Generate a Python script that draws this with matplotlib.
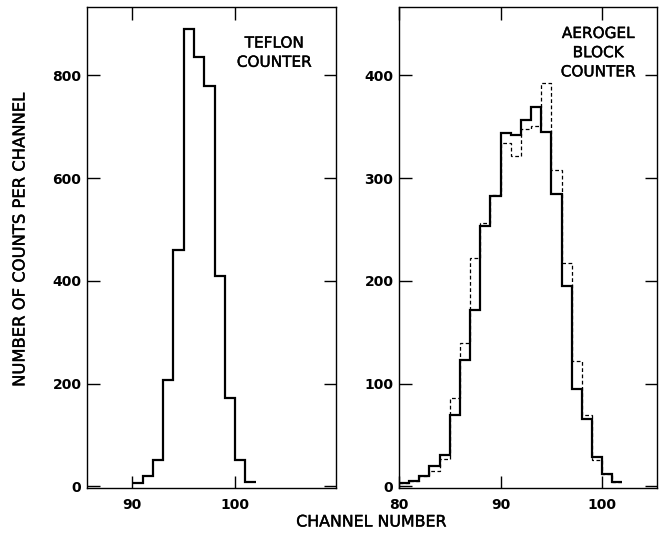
import numpy as np
import matplotlib
matplotlib.use("Agg")
import matplotlib.pyplot as plt
import matplotlib.patheffects as pe

# ---- data ----
teflon_channels = [90, 91, 92, 93, 94, 95, 96, 97, 98, 99, 100, 101]
teflon_counts = [6, 20, 52, 208, 460, 890, 835, 780, 410, 172, 52, 8]

aerogel_channels = [80, 81, 82, 83, 84, 85, 86, 87, 88, 89, 90, 91, 92, 93,
                    94, 95, 96, 97, 98, 99, 100, 101]
aerogel_solid = [3, 5, 10, 20, 31, 70, 123, 172, 253, 283, 344, 342, 357, 369,
                 345, 285, 195, 95, 66, 29, 12, 4]
aerogel_dashed = [3, 5, 10, 15, 27, 86, 140, 222, 256, 284, 334, 322, 348, 351,
                  393, 308, 217, 122, 70, 26, 12, 4]

teflon_yticks = [0, 200, 400, 600, 800]
teflon_xticks = [90, 100]
aerogel_yticks = [0, 100, 200, 300, 400]
aerogel_xticks = [80, 90, 100]

plt.rcParams['font.family'] = ['DejaVu Sans']

W, H = 663, 537
fig = plt.figure(figsize=(W / 100, H / 100), dpi=100)
fig.patch.set_facecolor('white')

thick = [pe.withStroke(linewidth=0.3, foreground='black')]

def px_axes(x0, x1, y0, y1):
    return fig.add_axes([x0 / W, 1 - y1 / H, (x1 - x0) / W, (y1 - y0) / H])

ax1 = px_axes(87, 336, 7, 488)
ax2 = px_axes(399, 657, 7, 488)

def edges_of(ch):
    return list(ch) + [ch[-1] + 1]

ax1.stairs(teflon_counts, edges_of(teflon_channels), baseline=None,
           color='black', lw=1.6)
ax2.stairs(aerogel_dashed, edges_of(aerogel_channels), baseline=None,
           color='black', lw=0.9, linestyle=(0, (3, 2)))
ax2.stairs(aerogel_solid, edges_of(aerogel_channels), baseline=None,
           color='black', lw=1.6)

ax1.set_xlim(85.6, 109.8)
ax1.set_ylim(-3, 933)
ax2.set_xlim(80.0, 105.4)
ax2.set_ylim(-1.5, 466.5)

ax1.set_xticks(teflon_xticks)
ax1.set_yticks(teflon_yticks)
ax2.set_xticks(aerogel_xticks)
ax2.set_yticks(aerogel_yticks)

for ax in (ax1, ax2):
    for s in ax.spines.values():
        s.set_linewidth(1.0)
    ax.tick_params(direction='in', length=9, width=1.0,
                   top=True, right=True, bottom=True, left=True)
    ax.tick_params(axis='x', pad=7, labelsize=10)
    ax.tick_params(axis='y', pad=4, labelsize=10)
    for lab in ax.get_xticklabels() + ax.get_yticklabels():
        lab.set_fontweight('bold')

ax1.text(0.752, 0.905, "TEFLON\nCOUNTER", transform=ax1.transAxes,
         ha='center', va='center', fontsize=11, linespacing=1.35,
         path_effects=thick)
ax2.text(0.772, 0.905, "AEROGEL\nBLOCK\nCOUNTER", transform=ax2.transAxes,
         ha='center', va='center', fontsize=11, linespacing=1.35,
         path_effects=thick)

fig.text(20 / W, 1 - 240 / H, "NUMBER OF COUNTS PER CHANNEL", rotation=90,
         ha='center', va='center', fontsize=11.8, path_effects=thick)
fig.text(371 / W, 1 - 522 / H, "CHANNEL NUMBER", ha='center', va='center',
         fontsize=11.4, path_effects=thick)

fig.savefig("out.png", dpi=100, facecolor='white')
